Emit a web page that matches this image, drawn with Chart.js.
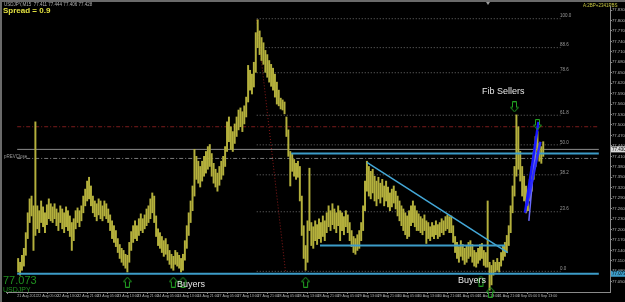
<!DOCTYPE html>
<html>
<head>
<meta charset="utf-8">
<script src="https://cdn.jsdelivr.net/npm/chart.js@4"></script>
<style>
  html, body { margin: 0; padding: 0; background: #000; }
  canvas { display: block; }
</style>
</head>
<body>
<canvas id="chart" width="625" height="302"></canvas>
<script>
/* USDJPY M15 — price bars with fib / trend lines */

// [high, low] per bar
const priceBars = [
  [77.117,77.078],[77.106,77.069],[77.126,77.083],[77.146,77.095],[77.191,77.126],[77.248,77.174],[77.288,77.220],[77.296,77.239],[77.268,77.140],[77.509,77.183],
  [77.268,77.202],[77.254,77.191],[77.282,77.220],[77.265,77.208],[77.248,77.191],[77.271,77.214],[77.288,77.231],[77.274,77.225],[77.265,77.220],[77.274,77.231],
  [77.259,77.211],[77.248,77.197],[77.268,77.220],[77.259,77.202],[77.248,77.191],[77.265,77.208],[77.254,77.197],[77.239,77.180],[77.220,77.140],[77.231,77.168],
  [77.254,77.202],[77.262,77.220],[77.254,77.208],[77.268,77.225],[77.296,77.248],[77.316,77.268],[77.339,77.282],[77.350,77.288],[77.325,77.268],[77.296,77.248],
  [77.282,77.237],[77.274,77.225],[77.288,77.242],[77.282,77.231],[77.268,77.225],[77.282,77.239],[77.274,77.231],[77.259,77.220],[77.242,77.197],[77.225,77.174],
  [77.211,77.163],[77.197,77.151],[77.174,77.134],[77.157,77.117],[77.146,77.106],[77.140,77.097],[77.129,77.089],[77.126,77.078],[77.163,77.106],[77.194,77.140],
  [77.211,77.163],[77.225,77.174],[77.211,77.168],[77.231,77.183],[77.245,77.197],[77.231,77.191],[77.242,77.202],[77.259,77.211],[77.268,77.220],[77.288,77.231],
  [77.305,77.248],[77.296,77.220],[77.239,77.180],[77.202,77.154],[77.191,77.146],[77.180,77.134],[77.168,77.123],[77.174,77.129],[77.157,77.112],[77.140,77.100],
  [77.129,77.089],[77.123,77.083],[77.140,77.100],[77.134,77.095],[77.126,77.089],[77.117,77.078],[77.129,77.083],[77.168,77.112],[77.211,77.146],[77.248,77.183],
  [77.282,77.220],[77.325,77.254],[77.430,77.296],[77.410,77.344],[77.396,77.333],[77.381,77.322],[77.396,77.339],[77.410,77.353],[77.424,77.362],[77.438,77.373],
  [77.444,77.381],[77.418,77.353],[77.390,77.333],[77.373,77.322],[77.362,77.310],[77.381,77.327],[77.396,77.344],[77.410,77.356],[77.438,77.381],[77.509,77.424],
  [77.523,77.452],[77.495,77.430],[77.481,77.424],[77.503,77.447],[77.523,77.467],[77.543,77.486],[77.549,77.495],[77.538,77.481],[77.555,77.503],[77.580,77.523],
  [77.671,77.566],[77.657,77.600],[77.646,77.589],[77.680,77.609],[77.765,77.651],[77.802,77.722],[77.770,77.702],[77.751,77.685],[77.736,77.674],[77.714,77.651],
  [77.702,77.637],[77.685,77.623],[77.674,77.611],[77.663,77.600],[77.646,77.580],[77.623,77.560],[77.600,77.555],[77.577,77.546],[77.572,77.543],[77.566,77.532],
  [77.523,77.467],[77.486,77.410],[77.424,77.325],[77.418,77.367],[77.401,77.353],[77.390,77.344],[77.396,77.350],[77.381,77.282],[77.296,77.183],[77.211,77.117],
  [77.154,77.083],[77.225,77.106],[77.376,77.197],[77.220,77.154],[77.208,77.146],[77.225,77.168],[77.214,77.157],[77.231,77.174],[77.220,77.163],[77.239,77.180],
  [77.225,77.168],[77.248,77.191],[77.268,77.208],[77.254,77.197],[77.274,77.214],[77.259,77.202],[77.248,77.191],[77.268,77.211],[77.254,77.168],[77.248,77.197],
  [77.237,77.185],[77.254,77.208],[77.242,77.191],[77.220,77.168],[77.197,77.151],[77.180,77.134],[77.174,77.129],[77.185,77.140],[77.197,77.146],[77.220,77.168],
  [77.268,77.197],[77.339,77.254],[77.396,77.310],[77.381,77.296],[77.367,77.288],[77.373,77.305],[77.353,77.282],[77.339,77.268],[77.350,77.288],[77.333,77.276],
  [77.344,77.293],[77.325,77.268],[77.339,77.282],[77.322,77.265],[77.305,77.254],[77.316,77.265],[77.325,77.276],[77.310,77.259],[77.296,77.239],[77.282,77.225],
  [77.268,77.211],[77.259,77.197],[77.248,77.185],[77.239,77.174],[77.254,77.180],[77.268,77.211],[77.282,77.220],[77.268,77.208],[77.254,77.197],[77.245,77.197],
  [77.237,77.191],[77.231,77.185],[77.242,77.197],[77.225,77.160],[77.220,77.174],[77.208,77.168],[77.220,77.180],[77.211,77.174],[77.225,77.185],[77.214,77.174],
  [77.220,77.180],[77.231,77.191],[77.225,77.185],[77.237,77.197],[77.242,77.202],[77.237,77.191],[77.239,77.191],[77.211,77.163],[77.180,77.134],[77.163,77.117],
  [77.151,77.106],[77.168,77.123],[77.157,77.112],[77.146,77.100],[77.154,77.106],[77.163,77.117],[77.168,77.123],[77.157,77.106],[77.140,77.095],[77.134,77.092],
  [77.146,77.103],[77.157,77.112],[77.160,77.117],[77.140,77.097],[77.134,77.092],[77.282,77.092],[77.106,77.026],[77.097,77.041],[77.112,77.069],[77.106,77.078],
  [77.117,77.083],[77.106,77.078],[77.134,77.095],[77.154,77.112],[77.163,77.123],[77.183,77.134],[77.211,77.154],[77.268,77.191],[77.325,77.248],[77.381,77.296],
  [77.529,77.353],[77.495,77.373],[77.424,77.339],[77.381,77.296],[77.353,77.282],[77.325,77.248],[77.310,77.254],[77.344,77.282],[77.381,77.310],[77.424,77.344],
  [77.467,77.381],[77.481,77.424],[77.447,77.396],[77.438,77.390],[77.452,77.410]
];

const timeLabels = [
  '21 Aug 2012','22 Aug 05:00','22 Aug 13:00','22 Aug 21:00','23 Aug 05:00','23 Aug 13:00','23 Aug 21:00',
  '24 Aug 05:00','24 Aug 13:00','24 Aug 21:00','27 Aug 05:00','27 Aug 13:00','27 Aug 21:00','28 Aug 05:00',
  '28 Aug 13:00','28 Aug 21:00','29 Aug 05:00','29 Aug 13:00','29 Aug 21:00','30 Aug 05:00','30 Aug 13:00',
  '30 Aug 21:00','31 Aug 05:00','31 Aug 13:00','31 Aug 21:00','3 Sep 05:00','3 Sep 13:00'
];

const priceTicks = [
  77.83, 77.80, 77.77, 77.74, 77.71, 77.68, 77.65, 77.62, 77.59, 77.56, 77.53, 77.50, 77.47, 77.44,
  77.41, 77.38, 77.35, 77.32, 77.29, 77.26, 77.23, 77.20, 77.17, 77.14, 77.11, 77.08, 77.05
];

// fibonacci retracement drawn from the 77.805 top to the 77.080 low
const fibLabels = ['0.0', '23.6', '38.2', '50.0', '61.8', '78.6', '88.6', '100.0'];
const fibPrices = [77.080, 77.251, 77.357, 77.443, 77.528, 77.650, 77.722, 77.805];
const fibSpan = [124.5, 283];            // bar index where the fib lines start / end
const fibBase = [[124.5, 77.802], [139.5, 77.080]];

// hand drawn lines: [bar index, price]
const supportLow = [[-0.5, 77.073], [303, 77.073]];
const resistLine = [[142.5, 77.418], [303, 77.418]];
const rangeLow   = [[157.5, 77.154], [254, 77.154]];
const trendLine  = [[182, 77.393], [255.5, 77.134]];
const channelA   = [[264.5, 77.248], [271.5, 77.509]];
const channelB   = [[265.5, 77.268], [272.5, 77.452]];
const channelC   = [[266.5, 77.225], [270.5, 77.470]];

const bidPrice = 77.430;
const prevClose = 77.404;
const redLevel = 77.495;

const upArrows   = [[57, 77.049], [81, 77.049], [86, 77.049], [150, 77.049], [241.5, 77.052], [246.5, 77.020]];
const downArrows = [[259, 77.552], [271, 77.501]];

const X_MIN = -0.5, X_MAX = 303;
const FONT = "'Liberation Sans', Arial, sans-serif";

function pts(arr) { return arr.map(p => ({ x: p[0], y: p[1] })); }
function hline(price, x0, x1) { return [{ x: x0, y: price }, { x: x1, y: price }]; }

function makeArrow(up) {
  const c = document.createElement('canvas');
  c.width = 9; c.height = 11;
  const g = c.getContext('2d');
  g.strokeStyle = '#22a022';
  g.lineWidth = 1;
  g.beginPath();
  if (up) {
    g.moveTo(4.5, 0.5); g.lineTo(8.5, 5); g.lineTo(6.5, 5); g.lineTo(6.5, 10.5);
    g.lineTo(2.5, 10.5); g.lineTo(2.5, 5); g.lineTo(0.5, 5);
  } else {
    g.moveTo(4.5, 10.5); g.lineTo(8.5, 6); g.lineTo(6.5, 6); g.lineTo(6.5, 0.5);
    g.lineTo(2.5, 0.5); g.lineTo(2.5, 6); g.lineTo(0.5, 6);
  }
  g.closePath();
  g.stroke();
  return c;
}

function lineDs(data, color, width, dash, order) {
  return {
    type: 'line', data, borderColor: color, borderWidth: width, borderDash: dash || [],
    pointRadius: 0, fill: false, order, clip: false, tension: 0
  };
}

const datasets = [
  {
    type: 'bar',
    data: priceBars.map((b, i) => ({ x: i, y: [b[1], b[0]] })),
    backgroundColor: '#b4b03c',
    borderWidth: 0,
    barThickness: 1.3,
    order: 5
  },
  lineDs(hline(redLevel, X_MIN, X_MAX), '#7a1c1c', 1, [4, 2, 1, 2], 9),
  lineDs(hline(bidPrice, X_MIN, X_MAX), '#8c8c8c', 1, [], 9),
  lineDs(hline(prevClose, X_MIN, X_MAX), '#7a7a7a', 1, [4, 2, 1, 2], 9),
  lineDs(pts(fibBase), '#8b1a1a', 1, [1, 2], 9),
  lineDs(pts(supportLow), '#3c9cc8', 2, [], 2),
  lineDs(pts(resistLine), '#3c9cc8', 2, [], 2),
  lineDs(pts(rangeLow), '#3c9cc8', 2, [], 2),
  lineDs(pts(trendLine), '#44a8d8', 1.5, [], 2),
  lineDs(pts(channelA), '#1818ff', 2.5, [], 1),
  lineDs(pts(channelB), '#2a2aff', 2.5, [], 1),
  lineDs(pts(channelC), '#6a6aff', 1.5, [], 1),
  {
    type: 'line', data: pts(upArrows), showLine: false, pointStyle: makeArrow(true),
    pointRadius: 5, clip: false, order: 0
  },
  {
    type: 'line', data: pts(downArrows), showLine: false, pointStyle: makeArrow(false),
    pointRadius: 5, clip: false, order: 0
  }
];

fibPrices.forEach(p => datasets.push(lineDs(hline(p, fibSpan[0], fibSpan[1]), '#6e6e6e', 1, [1, 2], 10)));

const overlayText = {
  id: 'overlayText',
  beforeDraw(chart) {
    const ctx = chart.ctx;
    ctx.save();
    ctx.fillStyle = '#000';
    ctx.fillRect(0, 0, chart.width, chart.height);
    ctx.fillStyle = '#6a6a6a';
    ctx.fillRect(0, 0, chart.width, 2);
    ctx.fillRect(0, 0, 2, chart.height);
    ctx.restore();
  },
  afterDraw(chart) {
    const ctx = chart.ctx;
    const y = chart.scales.y;
    ctx.save();
    ctx.textBaseline = 'middle';

    ctx.font = '4.5px ' + FONT;
    ctx.fillStyle = '#b0b0b0';
    ctx.fillText('USDJPY,M15  77.411 77.444 77.406 77.428', 4, 4.5);
    ctx.font = 'bold 8px ' + FONT;
    ctx.fillStyle = '#e2e040';
    ctx.fillText('Spread = 0.9', 3, 10.5);
    ctx.font = '4.5px ' + FONT;
    ctx.fillStyle = '#c8c840';
    ctx.fillText('A:2BP+2341PBS', 583, 5.5);

    // fib level labels
    ctx.font = '4.5px ' + FONT;
    ctx.fillStyle = '#9a9a9a';
    fibPrices.forEach((p, i) => ctx.fillText(fibLabels[i], 560, y.getPixelForValue(p) - 2.5));
    ctx.fillText('pREVClose', 4, y.getPixelForValue(prevClose) - 2);

    ctx.font = '9px ' + FONT;
    ctx.fillStyle = '#e6e6e6';
    ctx.fillText('Fib Sellers', 482, 92);
    ctx.fillText('Buyers', 177, 285);
    ctx.fillText('Buyers', 458, 281);

    ctx.font = '11px ' + FONT;
    ctx.fillStyle = '#1f8f1f';
    ctx.fillText('77.073', 3, 281);
    ctx.font = '7px ' + FONT;
    ctx.fillText('USDJPY', 3, 290);

    // price boxes on the axis
    const boxes = [[bidPrice, '#d8d8d8', '#000'], [77.073, '#3c9cc8', '#000']];
    ctx.font = '4.5px ' + FONT;
    boxes.forEach(([p, bg, fg]) => {
      const py = y.getPixelForValue(p);
      ctx.fillStyle = bg;
      ctx.fillRect(611, py - 3, 14, 6);
      ctx.fillStyle = fg;
      ctx.fillText(p.toFixed(3), 612, py);
    });
    ctx.fillStyle = '#9a9a9a';
    ctx.beginPath();
    ctx.moveTo(486, 2); ctx.lineTo(490, 2); ctx.lineTo(488, 5); ctx.fill();
    ctx.restore();
  }
};

new Chart(document.getElementById('chart'), {
  data: { datasets },
  options: {
    responsive: false,
    devicePixelRatio: 1,
    animation: false,
    events: [],
    layout: { padding: { left: 3, top: 3, right: 0, bottom: 0 } },
    plugins: { legend: { display: false }, tooltip: { enabled: false } },
    scales: {
      x: {
        type: 'linear',
        min: X_MIN,
        max: X_MAX,
        afterBuildTicks: (s) => { s.ticks = timeLabels.map((_, k) => ({ value: k * 10.45 - 0.5 })); },
        afterFit: (s) => { s.height = 10; },
        grid: { drawOnChartArea: false, color: '#8a8a8a', tickLength: 2 },
        border: { color: '#8a8a8a' },
        ticks: {
          autoSkip: false, maxRotation: 0, align: 'start', padding: 0,
          color: '#b8b8b8', font: { size: 3.6, family: FONT },
          callback: (v, i) => timeLabels[i]
        }
      },
      y: {
        type: 'linear',
        position: 'right',
        min: 77.0207,
        max: 77.8415,
        afterBuildTicks: (s) => { s.ticks = priceTicks.map(v => ({ value: v })); },
        afterFit: (s) => { s.width = 15; },
        grid: { drawOnChartArea: false, color: '#8a8a8a', tickLength: 2 },
        border: { color: '#8a8a8a' },
        ticks: {
          autoSkip: false, padding: 0, color: '#b8b8b8', font: { size: 4.2, family: FONT },
          callback: (v) => v.toFixed(3)
        }
      }
    }
  },
  plugins: [overlayText]
});
</script>
</body>
</html>
